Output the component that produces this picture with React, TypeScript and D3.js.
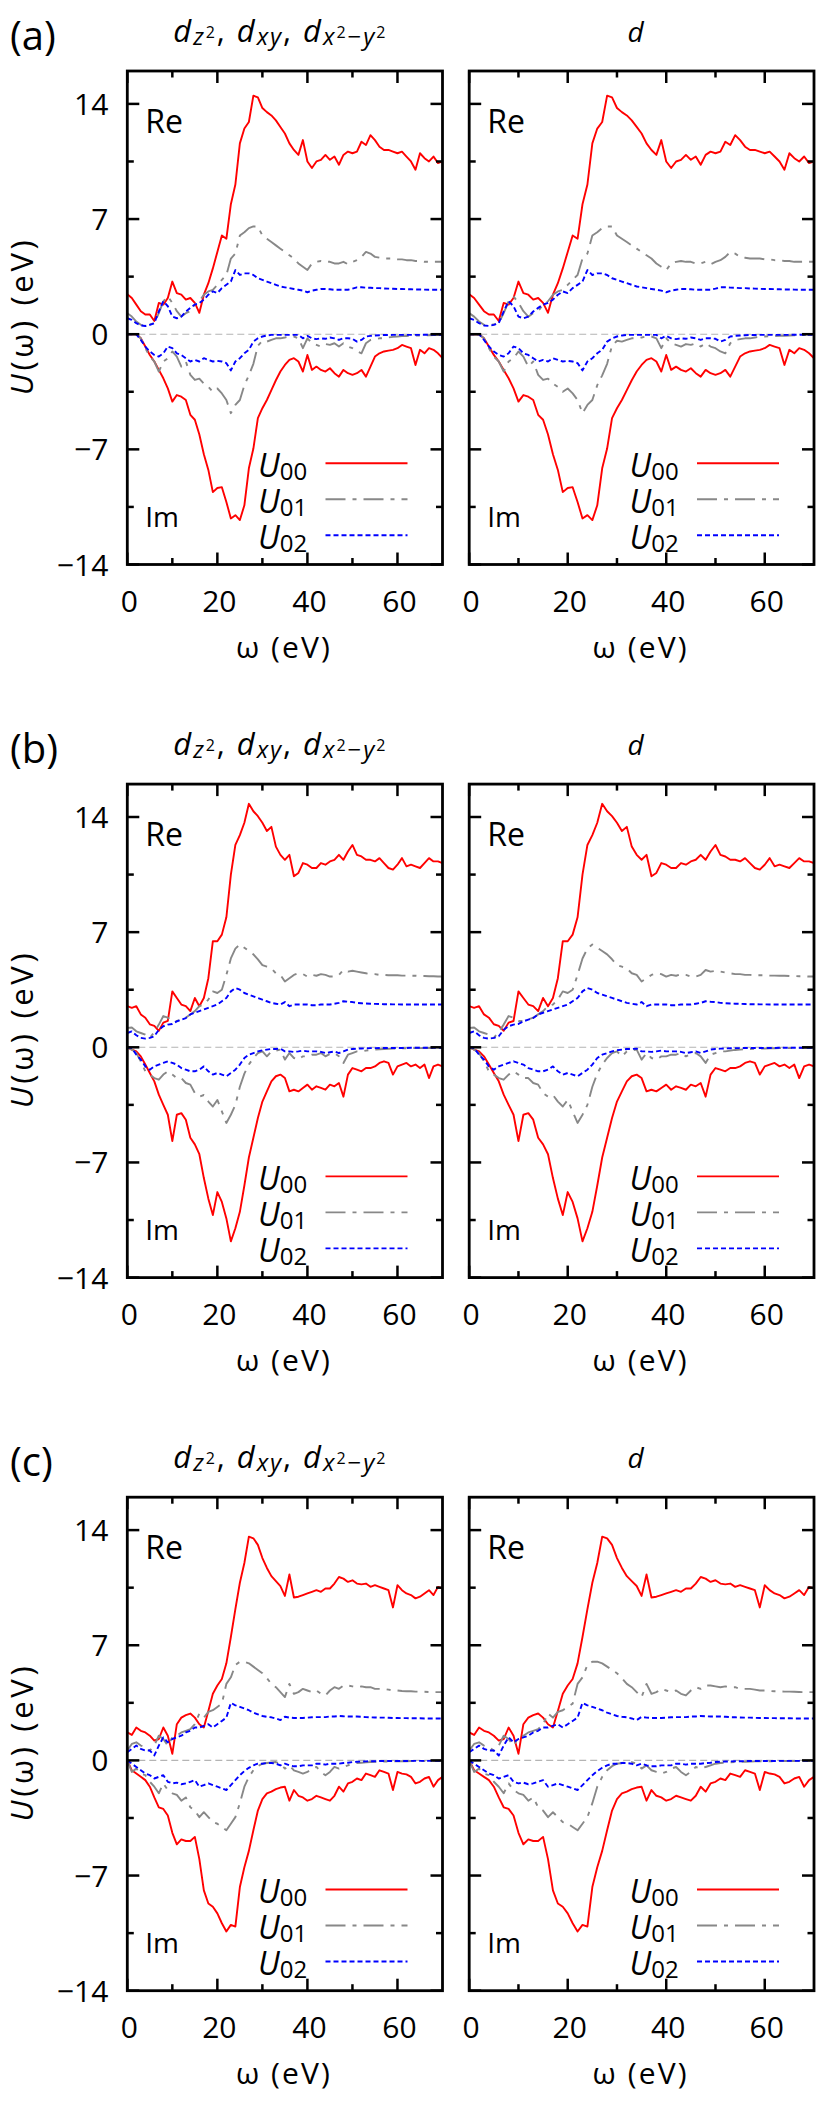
import React from 'react';
import * as d3 from 'd3';

// frequency grid (eV)
const omega = [
  0, 1, 2, 3, 4, 5, 6, 7, 8, 9, 10, 11, 12, 13, 14, 15, 16, 17, 18, 19, 20,
  21, 22, 23, 24, 25, 26, 27, 28, 29, 30, 31, 32, 33, 34, 35, 36, 37, 38, 39, 40,
  41, 42, 43, 44, 45, 46, 47, 48, 49, 50, 51, 52, 53, 54, 55, 56, 57, 58, 59, 60,
  61, 62, 63, 64, 65, 66, 67, 68, 69, 70,
];

const xTicks = [0, 20, 40, 60];
const xMinor = [10, 30, 50];
const yTicks = [-14, -7, 0, 7, 14];
const yMinor = [-10.5, -3.5, 3.5, 10.5];
const rowLabels = ['(a)', '(b)', '(c)'];

// ---- row (a) ----
const reU00A = [
  2.43, 2.2, 1.8, 1.4, 1.2, 1.2, 0.8, 1.9, 1.8, 2.2,
  3.2, 2.5, 2.4, 2.1, 2.2, 1.9, 1.3, 2.4, 3.1, 4.0,
  5.0, 6.0, 5.8, 7.9, 9.1, 11.6, 12.5, 12.9, 14.5, 14.4,
  13.75, 13.5, 13.3, 13.0, 12.6, 12.2, 11.6, 11.2, 10.9, 11.8,
  10.5, 10.1, 10.5, 10.6, 10.9, 10.6, 10.8, 10.3, 10.9, 11.1,
  11.0, 11.1, 11.7, 11.5, 12.1, 11.8, 11.4, 11.2, 11.2, 11.1,
  11.0, 11.1, 10.8, 10.5, 10.0, 11.0, 10.7, 10.5, 10.8, 10.4,
  10.5,
];
const reU01A = [
  1.28, 1.07, 0.77, 0.57, 0.53, 0.6, 0.67, 1.28, 2.0, 2.3,
  1.9, 1.4, 1.07, 1.28, 1.4, 1.8, 2.0, 2.4, 2.6, 2.7,
  3.0, 3.3, 3.6, 4.6, 4.9, 6.0, 6.2, 6.45, 6.55, 6.55,
  6.0, 5.8, 5.6, 5.4, 5.2, 5.0, 4.8, 4.6, 4.3, 4.1,
  3.9, 4.3, 4.4, 4.45, 4.4, 4.4, 4.3, 4.3, 4.4, 4.25,
  4.4, 4.5, 4.7, 5.0, 4.9, 4.7, 4.65, 4.6, 4.6, 4.6,
  4.55, 4.55, 4.5, 4.5, 4.45, 4.45, 4.4, 4.4, 4.4, 4.4,
  4.4,
];
const reU02A = [
  0.97, 0.87, 0.67, 0.53, 0.5, 0.57, 0.67, 1.38, 2.0, 1.7,
  1.07, 0.97, 1.07, 1.38, 1.6, 1.8, 1.9, 2.1, 2.4, 2.6,
  2.5, 2.8, 3.0, 3.2, 3.9, 3.6, 3.7, 3.7, 3.6, 3.4,
  3.3, 3.2, 3.1, 3.0, 2.9, 2.85, 2.8, 2.75, 2.7, 2.65,
  2.55, 2.65, 2.7, 2.75, 2.75, 2.73, 2.7, 2.7, 2.7, 2.7,
  2.77, 2.85, 2.85, 2.83, 2.82, 2.8, 2.8, 2.78, 2.77, 2.76,
  2.75, 2.75, 2.74, 2.73, 2.72, 2.72, 2.71, 2.7, 2.7, 2.7,
  2.7,
];
const imU00A = [
  0, 0, 0, -0.25, -0.75, -1.26, -1.66, -2.17, -2.68, -3.29,
  -4.1, -3.7, -3.8, -4.0, -4.9, -5.2, -6.1, -7.3, -8.25, -9.6,
  -9.35, -9.3, -10.2, -11.2, -11.0, -11.3, -10.4, -8.15, -6.95, -5.1,
  -4.5, -4.0, -3.4, -2.8, -2.27, -1.87, -1.56, -1.46, -1.66, -2.27,
  -1.26, -2.17, -1.97, -2.17, -2.27, -2.07, -2.37, -2.58, -2.17, -2.37,
  -2.47, -2.37, -2.17, -2.58, -1.97, -1.36, -1.16, -1.05, -1.0, -0.95,
  -0.85, -0.65, -0.75, -0.85, -1.87, -0.95, -1.16, -0.85, -0.95, -1.16,
  -1.46,
];
const imU01A = [
  0, 0, 0, -0.25, -0.85, -1.36, -1.66, -2.27, -1.66, -1.46,
  -1.05, -1.36, -1.97, -1.66, -2.47, -2.78, -2.7, -3.0, -3.2, -3.5,
  -3.3, -3.6, -4.0, -4.8, -4.3, -4.0, -3.1, -2.5, -1.8, -0.7,
  -0.4, -0.45, -0.35, -0.25, -0.25, -0.2, -0.14, -0.14, -0.25, -0.85,
  -0.25, -0.55, -0.65, -0.75, -0.6, -0.65, -0.55, -0.75, -0.55, -0.75,
  -0.85, -1.05, -1.16, -0.55, -0.35, -0.3, -0.25, -0.25, -0.2, -0.16,
  -0.14, -0.12, -0.11, -0.1, -0.09, -0.08, -0.07, -0.06, -0.05, -0.05,
  -0.04,
];
const imU02A = [
  0, 0, 0, -0.35, -0.75, -1.05, -1.26, -1.36, -1.16, -0.75,
  -0.85, -1.16, -1.26, -1.46, -1.66, -1.56, -1.66, -1.46, -1.56, -1.66,
  -1.62, -1.66, -1.76, -2.2, -1.66, -1.46, -1.16, -0.95, -0.45, -0.25,
  -0.14, -0.08, -0.04, -0.04, -0.04, -0.04, -0.04, -0.04, -0.04, -0.25,
  -0.1, -0.25, -0.3, -0.25, -0.28, -0.2, -0.25, -0.35, -0.25, -0.25,
  -0.28, -0.45, -0.35, -0.14, -0.1, -0.08, -0.06, -0.05, -0.05, -0.04,
  -0.04, -0.04, -0.04, -0.04, -0.04, -0.04, -0.03, -0.03, -0.03, -0.03,
  -0.03,
];

// ---- row (b) ----
const reU00B = [
  2.5, 2.4, 2.5, 2.0, 1.8, 1.4, 1.3, 1.0, 1.5, 1.6,
  3.4, 3.0, 2.6, 2.5, 2.2, 3.0, 2.5, 3.0, 4.2, 6.45,
  6.45, 6.85, 7.9, 10.5, 12.3, 12.9, 13.65, 14.8, 14.35, 14.05,
  13.65, 13.15, 13.4, 12.2, 11.7, 11.4, 11.7, 10.4, 10.6, 11.2,
  11.1, 10.9, 10.9, 11.2, 11.1, 11.3, 11.4, 11.7, 11.4, 11.9,
  12.3, 11.7, 11.6, 11.4, 11.4, 11.3, 11.5, 11.2, 10.9, 10.8,
  11.1, 11.5, 11.0, 11.1, 11.0, 10.9, 11.2, 11.5, 11.3, 11.3,
  11.2,
];
const reU01B = [
  1.18, 1.2, 0.97, 0.87, 0.77, 0.57, 0.93, 1.38, 1.9, 1.8,
  1.6, 1.6, 1.7, 1.8, 2.0, 2.2, 2.5, 2.6, 2.9, 3.4,
  3.3, 3.5, 4.4, 5.4, 6.0, 6.25, 6.05, 5.85, 5.65, 5.35,
  5.0, 4.9, 4.8, 4.5, 4.4, 4.0, 4.2, 4.4, 4.5, 4.45,
  4.3, 4.4, 4.35, 4.45, 4.4, 4.3, 4.3, 4.4, 4.7, 4.6,
  4.65, 4.6, 4.55, 4.5, 4.45, 4.45, 4.4, 4.4, 4.38, 4.38,
  4.38, 4.36, 4.36, 4.35, 4.35, 4.33, 4.33, 4.32, 4.32, 4.3,
  4.3,
];
const reU02B = [
  0.87, 0.97, 0.73, 0.57, 0.53, 0.57, 0.67, 1.07, 1.28, 1.38,
  1.42, 1.58, 1.68, 1.78, 2.0, 2.1, 2.2, 2.3, 2.4, 2.5,
  2.6, 2.8, 3.0, 3.4, 3.6, 3.5, 3.3, 3.2, 3.1, 3.0,
  2.9, 2.8, 2.7, 2.65, 2.6, 2.75, 2.5, 2.6, 2.6, 2.6,
  2.6, 2.56, 2.56, 2.6, 2.6, 2.6, 2.65, 2.7, 2.8, 2.77,
  2.75, 2.7, 2.68, 2.66, 2.65, 2.64, 2.63, 2.62, 2.62, 2.61,
  2.61, 2.6, 2.6, 2.6, 2.6, 2.6, 2.6, 2.6, 2.6, 2.6,
  2.6,
];
const imU00B = [
  0, -0.14, -0.25, -0.55, -1.05, -1.56, -2.07, -2.88, -3.5, -4.1,
  -5.7, -4.1, -4.0, -4.4, -5.5, -5.9, -6.5, -7.95, -9.2, -10.2,
  -8.8, -9.4, -10.4, -11.8, -11.0, -10.0, -8.4, -6.7, -5.5, -4.3,
  -3.3, -2.68, -2.07, -1.76, -1.66, -1.87, -2.68, -2.58, -2.68, -2.47,
  -2.27, -2.58, -2.37, -2.47, -2.58, -2.27, -2.37, -2.17, -3.0, -1.66,
  -1.26, -1.36, -1.46, -1.26, -1.26, -1.16, -0.95, -0.85, -0.95, -1.66,
  -1.16, -1.05, -0.95, -1.16, -1.05, -1.26, -1.05, -1.87, -1.16, -1.05,
  -1.16,
];
const imU01B = [
  0, -0.14, -0.35, -0.85, -1.46, -1.66, -1.87, -1.97, -1.66, -1.46,
  -1.66, -1.87, -1.87, -2.17, -2.27, -2.78, -3.0, -2.9, -3.3, -3.6,
  -3.2, -3.9, -4.6, -4.1, -3.5, -2.4, -1.6, -1.05, -0.65, -0.35,
  -0.25, -0.55, -0.25, -0.2, -0.14, -0.75, -0.35, -0.65, -0.75, -0.55,
  -0.55, -0.45, -0.45, -0.35, -0.55, -0.4, -0.35, -0.55, -0.95, -0.45,
  -0.35, -0.25, -0.25, -0.2, -0.16, -0.14, -0.12, -0.1, -0.09, -0.08,
  -0.07, -0.06, -0.06, -0.05, -0.05, -0.05, -0.04, -0.04, -0.04, -0.04,
  -0.04,
];
const imU02B = [
  0, -0.04, -0.45, -0.75, -1.16, -1.36, -1.16, -1.05, -0.95, -0.85,
  -0.95, -1.05, -1.26, -1.36, -1.46, -1.46, -1.36, -1.16, -1.46, -1.66,
  -1.56, -1.66, -1.76, -1.56, -1.36, -1.05, -0.65, -0.45, -0.35, -0.25,
  -0.18, -0.14, -0.1, -0.1, -0.08, -0.25, -0.25, -0.28, -0.25, -0.2,
  -0.25, -0.25, -0.25, -0.28, -0.35, -0.3, -0.25, -0.35, -0.25, -0.14,
  -0.1, -0.08, -0.07, -0.06, -0.05, -0.05, -0.04, -0.04, -0.04, -0.04,
  -0.04, -0.04, -0.04, -0.03, -0.03, -0.03, -0.03, -0.03, -0.03, -0.03,
  -0.03,
];

// ---- row (c) ----
const reU00C = [
  1.7, 1.55, 2.0, 1.8, 1.7, 1.5, 1.2, 1.3, 2.0, 1.5,
  0.4, 2.2, 2.6, 2.75, 2.85, 2.6, 2.2, 2.0, 3.0, 4.05,
  4.55, 4.95, 5.9, 7.5, 9.2, 10.8, 12.0, 13.6, 13.5, 13.1,
  12.3, 11.7, 11.2, 10.9, 10.6, 10.0, 11.3, 9.9, 9.95, 10.05,
  10.15, 10.25, 10.35, 10.25, 10.45, 10.45, 10.75, 11.15, 11.05, 10.85,
  10.95, 10.75, 10.7, 10.75, 10.55, 10.65, 10.55, 10.45, 10.35, 9.3,
  10.65, 10.35, 10.15, 10.05, 9.85, 9.95, 10.15, 10.35, 10.05, 10.55,
  10.45,
];
const reU01C = [
  0.6, 1.0, 1.1, 0.9, 0.8, 0.6, 0.9, 1.5, 1.3, 0.9,
  1.4, 1.5, 1.7, 1.8, 1.9, 2.2, 2.85, 2.6, 2.95, 3.05,
  3.25, 3.45, 4.65, 5.05, 5.8, 6.0, 6.0, 5.9, 5.7, 5.5,
  5.3, 5.0, 4.65, 4.45, 4.15, 3.85, 4.65, 4.05, 4.15, 4.35,
  4.25, 4.15, 4.25, 4.05, 3.95, 4.25, 4.45, 4.35, 4.55, 4.55,
  4.5, 4.45, 4.5, 4.45, 4.45, 4.35, 4.35, 4.35, 4.3, 4.25,
  4.25, 4.22, 4.2, 4.2, 4.18, 4.18, 4.17, 4.16, 4.15, 4.15,
  4.15,
];
const reU02C = [
  0.5, 0.7, 0.9, 0.7, 0.6, 0.6, 0.3, 0.9, 1.4, 1.1,
  1.3, 1.4, 1.5, 1.7, 1.8, 2.0, 2.0, 2.1, 2.2, 2.0,
  2.2, 2.4, 2.6, 3.5, 3.35, 3.25, 3.15, 3.05, 2.9, 2.8,
  2.7, 2.65, 2.62, 2.55, 2.45, 2.65, 2.6, 2.58, 2.58, 2.58,
  2.6, 2.62, 2.63, 2.63, 2.63, 2.67, 2.67, 2.7, 2.68, 2.67,
  2.67, 2.67, 2.65, 2.63, 2.62, 2.61, 2.6, 2.6, 2.59, 2.58,
  2.58, 2.57, 2.57, 2.56, 2.56, 2.56, 2.55, 2.55, 2.55, 2.55,
  2.55,
];
const imU00C = [
  0, -0.6, -0.8, -1.0, -1.2, -1.6, -2.25, -2.85, -2.95, -3.35,
  -4.4, -5.1, -4.8, -4.9, -4.9, -4.65, -6.0, -7.9, -8.7, -8.9,
  -9.3, -9.9, -10.4, -10.0, -10.1, -7.7, -6.5, -5.5, -4.25, -3.05,
  -2.35, -2.0, -1.9, -1.75, -1.65, -1.6, -2.45, -1.8, -2.15, -2.25,
  -2.45, -2.35, -2.15, -2.25, -2.35, -2.45, -2.15, -1.6, -1.9, -1.4,
  -1.3, -1.1, -1.2, -0.8, -0.9, -1.0, -0.6, -0.7, -0.8, -1.8,
  -0.7, -0.8, -0.85, -1.0, -1.4, -1.3, -1.1, -1.0, -1.6, -1.2,
  -1.0,
];
const imU01C = [
  0, -0.7, -0.5, -0.8, -0.9, -1.3, -1.6, -2.0, -1.4, -1.8,
  -2.0, -2.1, -2.45, -2.25, -2.85, -3.05, -3.45, -3.15, -3.45, -3.75,
  -3.85, -4.05, -4.25, -3.85, -3.45, -2.6, -1.6, -1.0, -0.6, -0.35,
  -0.2, -0.16, -0.12, -0.1, -0.2, -0.5, -0.3, -0.6, -0.7, -0.8,
  -0.7, -0.5, -0.4, -0.7, -0.9, -0.7, -0.4, -0.5, -0.4, -0.3,
  -0.2, -0.16, -0.14, -0.12, -0.1, -0.09, -0.08, -0.07, -0.06, -0.06,
  -0.05, -0.05, -0.05, -0.04, -0.04, -0.04, -0.04, -0.04, -0.04, -0.04,
  -0.04,
];
const imU02C = [
  0, -0.2, -0.4, -0.6, -0.8, -0.9, -1.1, -1.0, -0.9, -1.3,
  -1.4, -1.35, -1.45, -1.4, -1.3, -1.2, -1.6, -1.5, -1.4, -1.5,
  -1.6, -1.7, -1.8, -1.5, -1.2, -0.9, -0.65, -0.45, -0.3, -0.2,
  -0.2, -0.16, -0.16, -0.2, -0.3, -0.2, -0.3, -0.36, -0.36, -0.3,
  -0.3, -0.3, -0.2, -0.2, -0.26, -0.2, -0.2, -0.2, -0.16, -0.14,
  -0.1, -0.08, -0.07, -0.06, -0.05, -0.05, -0.04, -0.04, -0.04, -0.04,
  -0.04, -0.04, -0.04, -0.03, -0.03, -0.03, -0.03, -0.03, -0.03, -0.03,
  -0.03,
];

const rows = [
  { re: [reU00A, reU01A, reU02A], im: [imU00A, imU01A, imU02A] },
  { re: [reU00B, reU01B, reU02B], im: [imU00B, imU01B, imU02B] },
  { re: [reU00C, reU01C, reU02C], im: [imU00C, imU01C, imU02C] },
];

const series = [
  { sub: '00', color: '#ff0000', dash: undefined as string | undefined },
  { sub: '01', color: '#888888', dash: '20 7 4 7' },
  { sub: '02', color: '#0000ff', dash: '5 3' },
];

const FONT = "'Open Sans', 'DejaVu Sans', sans-serif";
const FIRST_TOP = 71;
const ROW_PITCH = 713.1;
const PLOT_H = 493.5;
const panelX = [
  [127.3, 442.5],
  [469.2, 814],
];

// d_{z^2}, d_{xy}, d_{x^2-y^2}
function LeftTitle({ x, y }: { x: number; y: number }) {
  return (
    <text x={x} y={y} fontSize={31} fontStyle="italic" textLength={212} lengthAdjust="spacing">
      d
      <tspan fontSize={24} dy={2.5}>z</tspan>
      <tspan fontSize={16} fontStyle="normal" dy={-7}>2</tspan>
      <tspan fontStyle="normal" dy={4.5}>, </tspan>
      d
      <tspan fontSize={24} dy={2.5}>xy</tspan>
      <tspan fontStyle="normal" dy={-2.5}>, </tspan>
      d
      <tspan fontSize={24} dy={2.5}>x</tspan>
      <tspan fontSize={16} fontStyle="normal" dy={-7}>2</tspan>
      <tspan fontSize={24} fontStyle="normal" dy={7}>−</tspan>
      <tspan fontSize={24}>y</tspan>
      <tspan fontSize={16} fontStyle="normal" dy={-7}>2</tspan>
    </text>
  );
}

function Panel({ row, col }: { row: number; col: number }) {
  const top = FIRST_TOP + ROW_PITCH * row;
  const [x0, x1] = panelX[col];
  const x = d3.scaleLinear().domain([0, 70]).range([x0, x1]);
  const y = d3.scaleLinear().domain([-14, 16]).range([top + PLOT_H, top]);
  const line = d3
    .line<number>()
    .x((_, i) => x(omega[i]))
    .y((v) => y(v));
  const clipId = `clip-${row}-${col}`;
  const data = rows[row];
  const cx = (x0 + x1) / 2;
  const bottom = top + PLOT_H;

  return (
    <g>
      <defs>
        <clipPath id={clipId}>
          <rect x={x0} y={top} width={x1 - x0} height={PLOT_H} />
        </clipPath>
      </defs>
      <g clipPath={`url(#${clipId})`}>
        <line x1={x0} x2={x1} y1={y(0)} y2={y(0)} stroke="#b4b4b4" strokeWidth={1.1} strokeDasharray="7 4" />
        {series.map((s, i) => (
          <g key={s.sub}>
            <path d={line(data.re[i]) ?? ''} fill="none" stroke={s.color} strokeWidth={1.9} strokeDasharray={s.dash} strokeLinejoin="round" />
            <path d={line(data.im[i]) ?? ''} fill="none" stroke={s.color} strokeWidth={1.9} strokeDasharray={s.dash} strokeLinejoin="round" />
          </g>
        ))}
      </g>

      {/* ticks, mirrored on all sides, pointing inward */}
      {xTicks.map((t) => (
        <g key={`xt${t}`} stroke="#000" strokeWidth={2.5}>
          <line x1={x(t)} x2={x(t)} y1={bottom} y2={bottom - 12} />
          <line x1={x(t)} x2={x(t)} y1={top} y2={top + 12} />
        </g>
      ))}
      {xMinor.map((t) => (
        <g key={`xm${t}`} stroke="#000" strokeWidth={2.5}>
          <line x1={x(t)} x2={x(t)} y1={bottom} y2={bottom - 6.5} />
          <line x1={x(t)} x2={x(t)} y1={top} y2={top + 6.5} />
        </g>
      ))}
      {yTicks.map((t) => (
        <g key={`yt${t}`} stroke="#000" strokeWidth={2.5}>
          <line x1={x0} x2={x0 + 12} y1={y(t)} y2={y(t)} />
          <line x1={x1} x2={x1 - 12} y1={y(t)} y2={y(t)} />
        </g>
      ))}
      {yMinor.map((t) => (
        <g key={`ym${t}`} stroke="#000" strokeWidth={2.5}>
          <line x1={x0} x2={x0 + 6.5} y1={y(t)} y2={y(t)} />
          <line x1={x1} x2={x1 - 6.5} y1={y(t)} y2={y(t)} />
        </g>
      ))}
      <rect x={x0} y={top} width={x1 - x0} height={PLOT_H} fill="none" stroke="#000" strokeWidth={2.8} />

      {/* tick labels */}
      {xTicks.map((t) => (
        <text key={`xl${t}`} x={x(t) + 2} y={bottom + 47.5} textAnchor="middle" fontSize={30}>
          {t}
        </text>
      ))}
      {col === 0 &&
        yTicks.map((t) => (
          <text key={`yl${t}`} x={x0 - 19} y={y(t) + 11} textAnchor="end" fontSize={30}>
            {t < 0 ? `−${-t}` : t}
          </text>
        ))}

      <text x={cx - 2} y={bottom + 93.5} textAnchor="middle" fontSize={30} textLength={94} lengthAdjust="spacing">
        ω (eV)
      </text>

      {col === 0 ? (
        <LeftTitle x={x0 + 46} y={top - 29} />
      ) : (
        <text x={cx - 6} y={top - 29} textAnchor="middle" fontSize={28} fontStyle="italic">
          d
        </text>
      )}

      <text x={x0 + 18} y={top + 62} fontSize={32}>Re</text>
      <text x={x0 + 18} y={top + 456} fontSize={28}>Im</text>

      {series.map((s, i) => (
        <g key={`lg${s.sub}`}>
          <text x={x1 - 184.5} y={top + 405.7 + 36 * i} fontSize={32} fontStyle="italic">
            U
            <tspan fontSize={24} fontStyle="normal" dy={3}>
              {s.sub}
            </tspan>
          </text>
          <line
            x1={x1 - 117}
            x2={x1 - 35}
            y1={top + 392.3 + 36 * i}
            y2={top + 392.3 + 36 * i}
            stroke={s.color}
            strokeWidth={1.9}
            strokeDasharray={s.dash}
          />
        </g>
      ))}
    </g>
  );
}

export default function App() {
  return (
    <svg
      width={831}
      height={2123}
      viewBox="0 0 831 2123"
      style={{ position: 'absolute', left: 0, top: 0, background: '#fff' }}
      fontFamily={FONT}
    >
      {rowLabels.map((lab, r) => {
        const top = FIRST_TOP + ROW_PITCH * r;
        return (
          <g key={lab}>
            <text x={10} y={top - 21} fontSize={40}>
              {lab}
            </text>
            <text
              transform={`translate(33,${top + PLOT_H / 2}) rotate(-90)`}
              textAnchor="middle"
              fontSize={31}
              textLength={155}
              lengthAdjust="spacing"
            >
              <tspan fontStyle="italic">U</tspan>(ω) (eV)
            </text>
            <Panel row={r} col={0} />
            <Panel row={r} col={1} />
          </g>
        );
      })}
    </svg>
  );
}
